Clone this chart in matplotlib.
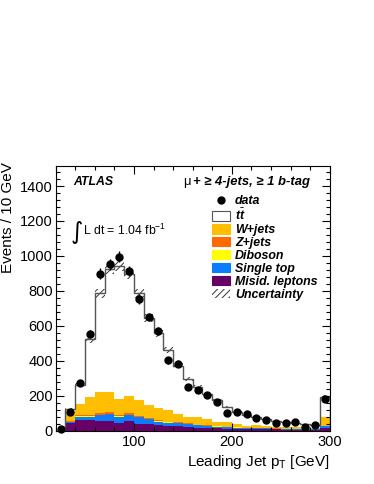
import numpy as np
import matplotlib
matplotlib.use("Agg")
import matplotlib.pyplot as plt
from matplotlib.patches import Patch
from matplotlib.lines import Line2D
from matplotlib.ticker import MultipleLocator

plt.rcParams['font.family'] = ['Liberation Sans', 'DejaVu Sans']
plt.rcParams['mathtext.fontset'] = 'custom'
plt.rcParams['mathtext.rm'] = 'Liberation Sans'
plt.rcParams['mathtext.it'] = 'Liberation Sans:italic:bold'
plt.rcParams['mathtext.bf'] = 'Liberation Sans:bold'
plt.rcParams['hatch.linewidth'] = 0.7

# ---- data ----
bin_low = [30, 40, 50, 60, 70, 80, 90, 100, 110, 120, 130, 140, 150, 160, 170,
           180, 190, 200, 210, 220, 230, 240, 250, 260, 270, 280, 290]
bin_high_last = 300
data_x = [25, 35, 45, 55, 65, 75, 85, 95, 105, 115, 125, 135, 145, 155, 165,
          175, 185, 195, 205, 215, 225, 235, 245, 255, 265, 275, 285, 295]
data_y = [8, 108, 271, 552, 899, 951, 994, 914, 753, 650, 570, 402, 383, 252, 233,
          205, 162, 99, 105, 92, 73, 63, 42, 42, 48, 19, 30, 180]

misid = [42, 62, 58, 55, 55, 45, 52, 40, 37, 32, 28, 26, 22, 17, 16, 12, 11, 10, 9, 8,
         7, 6, 5, 5, 4, 4, 14]
single_top = [8, 17, 21, 34, 38, 34, 37, 36, 27, 19, 17, 15, 15, 13, 10, 10, 8, 7, 6, 5,
              5, 4, 4, 3, 3, 3, 10]
diboson = [1, 2, 2, 2, 2, 2, 2, 2, 2, 1.5, 1.5, 1, 1, 1, 1, 1, 0.5, 0.5, 0.5, 0.5,
           0.5, 0.5, 0.3, 0.3, 0.3, 0.3, 1]
zjets = [4, 6, 7, 8, 9, 8, 9, 7, 7, 6, 5, 5, 4, 3, 3, 3, 2, 2, 1.5, 1.5, 1, 1, 1, 1, 1, 1, 3]
wjets = [50, 65, 106, 122, 117, 92, 100, 90, 73, 68, 65, 46, 37, 42, 34, 24, 25, 17, 9,
         17, 12, 10, 12, 11, 9, 7, 48]
ttbar = [17, 108, 328, 565, 704, 764, 697, 610, 497, 430, 344, 277, 215, 175, 143, 125,
         86, 71, 63, 44, 38, 31, 26, 22, 19, 17, 118]
uncert = [6, 10, 18, 25, 30, 32, 30, 26, 22, 19, 16, 14, 11, 10, 8, 7, 6, 5, 4, 4, 3, 3,
          3, 3, 2, 2, 8]

components = [
    ("Misid. leptons", misid, "#660066"),
    ("Single top", single_top, "#0a7cff"),
    ("Diboson", diboson, "#ffff00"),
    ("Z+jets", zjets, "#ff6a00"),
    ("W+jets", wjets, "#ffbf00"),
    (r"$t\bar{t}$", ttbar, "#ffffff"),
]

edges = np.array(bin_low + [bin_high_last], dtype=float)

W, H = 374, 484
fig = plt.figure(figsize=(W / 100, H / 100), dpi=100)
ax_l, ax_r, ax_t, ax_b = 55.7, 329.7, 166, 430.5
ax = fig.add_axes([ax_l / W, 1 - ax_b / H, (ax_r - ax_l) / W, (ax_b - ax_t) / H])

base = np.zeros(len(bin_low))
for name, vals, col in components:
    v = np.array(vals, dtype=float)
    ax.stairs(base + v, edges, baseline=base, fill=True, color=col, lw=0, zorder=1)
    base = base + v
total = base

unc = np.array(uncert, dtype=float)
ax.bar(edges[:-1], 2 * unc, width=np.diff(edges), bottom=total - unc, align='edge',
       color='none', edgecolor='#333333', linewidth=0, hatch='/////', zorder=2)
ax.stairs(total, edges, baseline=0, fill=False, color='#555555', lw=1.0, zorder=3)

dy = np.sqrt(np.array(data_y, dtype=float))
ax.errorbar(data_x, data_y, yerr=dy, fmt='o', color='black', ms=5, elinewidth=1,
            capsize=0, zorder=5, clip_on=False)

ax.set_xlim(20, 300)
ax.set_ylim(0, 1515)
ax.xaxis.set_major_locator(MultipleLocator(100))
ax.xaxis.set_minor_locator(MultipleLocator(20))
ax.yaxis.set_major_locator(MultipleLocator(200))
ax.yaxis.set_minor_locator(MultipleLocator(40))
ax.tick_params(which='both', direction='in', top=True, right=True, labelsize=10.5,
               width=0.8, colors='black', zorder=10)
ax.tick_params(which='major', length=5.5)
ax.tick_params(which='minor', length=3)
ax.tick_params(axis='y', pad=2)
ax.tick_params(axis='x', pad=3)
for sp in ax.spines.values():
    sp.set_linewidth(0.8)
    sp.set_zorder(10)
ax.set_axisbelow(False)

ax.set_xlabel(r"Leading Jet p$_{\mathregular{T}}$ [GeV]", loc='right', fontsize=11, labelpad=3)
ax.set_ylabel("Events / 10 GeV", loc='top', fontsize=11, labelpad=2)
ax.yaxis.set_label_coords(-0.148, 1.015)

# texts
fig.text(73 / W, 1 - 181.7 / H, "ATLAS", fontsize=8.8, fontweight='bold', fontstyle='italic',
         ha='left', va='center')
fig.text(183 / W, 1 - 181.7 / H, "\u03bc", fontsize=9.3, ha='left', va='center')
fig.text(193 / W, 1 - 181.7 / H, "+ \u2265 4-jets, \u2265 1 b-tag", fontsize=9.4,
         fontweight='bold', fontstyle='italic', ha='left', va='center')
fig.text(71 / W, 1 - 232 / H, "\u222b", fontsize=17, ha='left', va='center',
         family='DejaVu Sans')
fig.text(83 / W, 1 - 230 / H, r"L dt = 1.04 fb$^{\mathregular{-1}}$", fontsize=8.8,
         ha='left', va='center')

# legend
handles = [Line2D([], [], marker='o', ls='none', color='black', ms=5)]
labels = ["data"]
for name, vals, col in reversed(components):
    handles.append(Patch(facecolor=col, edgecolor='#555555' if col == '#ffffff' else col,
                         linewidth=0.8))
    labels.append(name)
handles.append(Patch(facecolor='white', edgecolor='#333333', hatch='/////', linewidth=0))
labels.append("Uncertainty")
leg = fig.legend(handles, labels, loc='upper left', bbox_to_anchor=(212 / W, 1 - 195 / H),
                 frameon=False, borderpad=0, borderaxespad=0, handlelength=1.45,
                 handleheight=0.8, handletextpad=0.4, labelspacing=0.07,
                 prop={'family': 'Liberation Sans', 'weight': 'bold', 'style': 'italic',
                       'size': 8.9})

fig.savefig("out.png", dpi=100)
